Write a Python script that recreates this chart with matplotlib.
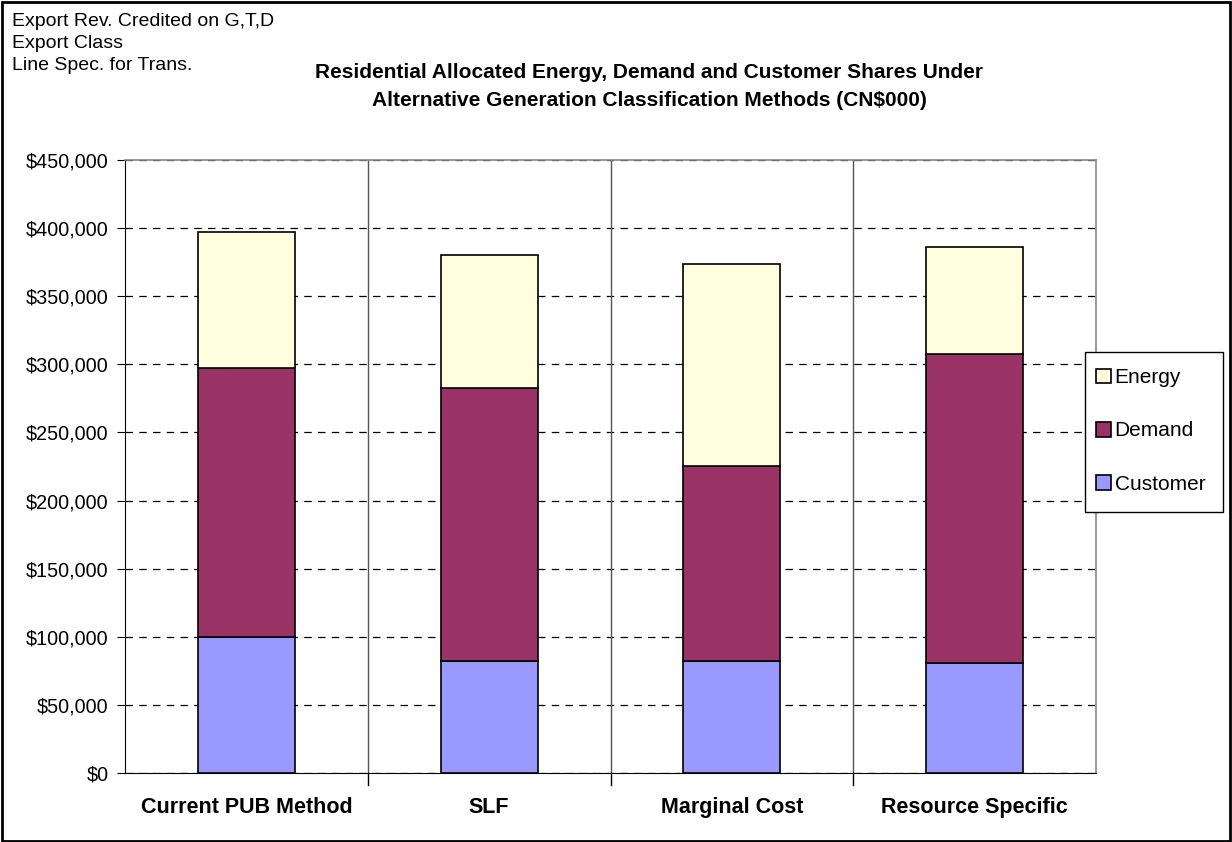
import numpy as np
import matplotlib
matplotlib.use("Agg")
import matplotlib.pyplot as plt
from matplotlib.patches import Rectangle
from matplotlib.ticker import FuncFormatter

plt.rcParams["font.family"] = ["Liberation Sans", "DejaVu Sans"]

# ---------- data ----------
categories = ["Current PUB Method", "SLF", "Marginal Cost", "Resource Specific"]
customer = [100000, 82500, 82500, 81000]
demand = [197000, 200000, 143000, 226500]
energy = [100500, 98000, 148500, 79000]

colors = {"Customer": "#9999FF", "Demand": "#993366", "Energy": "#FFFFE0"}

W, H = 1232, 842
fig = plt.figure(figsize=(W / 100, H / 100), dpi=100)
ax = fig.add_axes([125 / W, 1 - 773 / H, (1096 - 125) / W, (773 - 160) / H])

x = np.arange(len(categories))
w = 0.4
bottom_d = np.array(customer)
bottom_e = bottom_d + np.array(demand)

b_c = ax.bar(x, customer, w, color=colors["Customer"], edgecolor="black", linewidth=1.2, zorder=3)
b_d = ax.bar(x, demand, w, bottom=bottom_d, color=colors["Demand"], edgecolor="black", linewidth=1.2, zorder=3)
b_e = ax.bar(x, energy, w, bottom=bottom_e, color=colors["Energy"], edgecolor="black", linewidth=1.2, zorder=3)

ax.set_xlim(-0.5, len(categories) - 0.5)
ax.set_ylim(0, 450000)
ax.set_yticks(np.arange(0, 450001, 50000))
ax.yaxis.set_major_formatter(FuncFormatter(lambda v, p: f"${v:,.0f}"))
ax.tick_params(axis="y", labelsize=14.2, length=5.8, direction="out", color="black", pad=6)
ax.set_xticks(x)
ax.set_xticklabels(categories, fontsize=15.5, fontweight="bold")
ax.tick_params(axis="x", length=0, pad=17)

# category separators (Excel-style category gridlines)
for b in np.arange(0.5, len(categories) - 0.5, 1.0):
    ax.axvline(b, color="#555555", linewidth=1, zorder=1)
    ax.plot([b, b], [0, -9000], color="black", linewidth=1, clip_on=False, zorder=1)
ax.yaxis.grid(True, linestyle=(0, (6, 5)), color="black", linewidth=0.9, zorder=1)
ax.set_axisbelow(True)

for side in ["top", "right"]:
    ax.spines[side].set_color("#888888")
    ax.spines[side].set_linewidth(1.2)
ax.spines["left"].set_color("black")
ax.spines["bottom"].set_color("black")

# legend: entries placed inside a hand-sized frame like the Excel one
fig.patches.append(Rectangle((1085 / W, 1 - 512 / H), (1223 - 1085) / W, (512 - 352) / H,
                             transform=fig.transFigure, facecolor="white",
                             edgecolor="black", linewidth=1, zorder=2))
leg = fig.legend([b_e, b_d, b_c], ["Energy", "Demand", "Customer"],
                 loc="center left", bbox_to_anchor=(1096 / W, 1 - 431 / H),
                 bbox_transform=fig.transFigure, fontsize=15, frameon=False,
                 handlelength=0.7, handleheight=0.7,
                 labelspacing=1.64, handletextpad=0.2, borderpad=0, borderaxespad=0)
leg.set_zorder(3)

fig.text(649 / W, 1 - 73 / H,
         "Residential Allocated Energy, Demand and Customer Shares Under",
         ha="center", va="center", fontsize=15, fontweight="bold")
fig.text(649 / W, 1 - 100 / H,
         "Alternative Generation Classification Methods (CN$000)",
         ha="center", va="center", fontsize=15, fontweight="bold")

for i, t in enumerate(["Export Rev. Credited on G,T,D", "Export Class", "Line Spec. for Trans."]):
    fig.text(12 / W, 1 - (22 + 22 * i) / H, t, ha="left", va="center", fontsize=14)

fig.patches.append(Rectangle((0.002, 0.001), 0.996, 0.997, transform=fig.transFigure,
                             fill=False, edgecolor="black", linewidth=2))

fig.savefig("out.png", dpi=100)
